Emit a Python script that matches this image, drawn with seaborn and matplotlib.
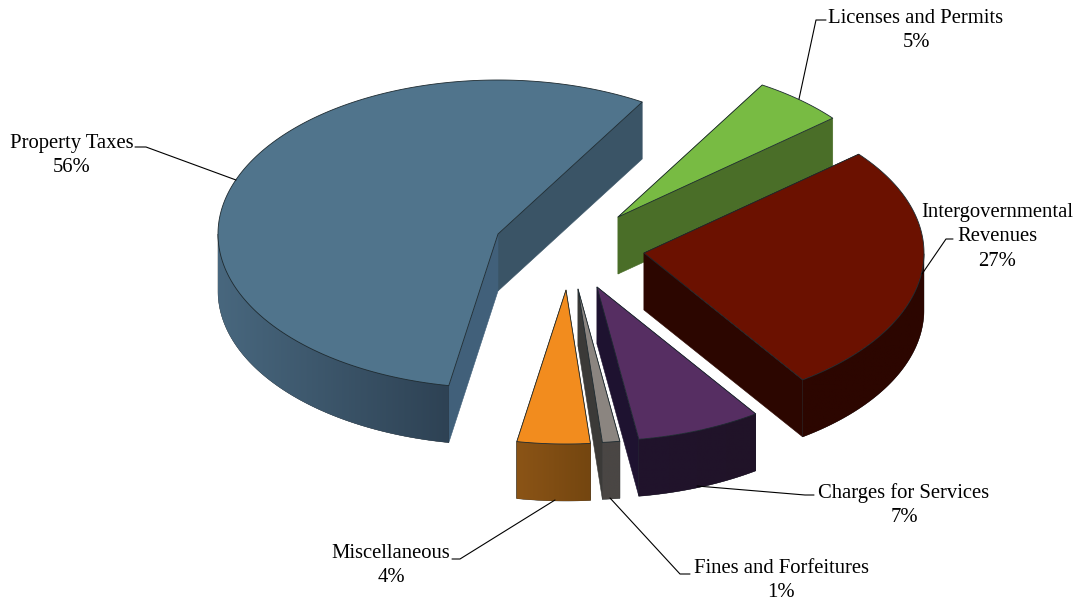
import numpy as np
import pandas as pd
import matplotlib
matplotlib.use("Agg")
import matplotlib.pyplot as plt
from matplotlib.patches import Polygon
from matplotlib.colors import to_rgb
import seaborn as sns

# ---- data (share of revenue, percent; order counter-clockwise from the start angle)
categories = ["Property Taxes", "Miscellaneous", "Fines and Forfeitures",
              "Charges for Services", "Intergovernmental\nRevenues", "Licenses and Permits"]
shares = [55.8, 4.2, 1.0, 7.2, 26.5, 5.3]
labels_pct = ["56%", "4%", "1%", "7%", "27%", "5%"]

# ---- styling
START = 59.0
RX, RY, DEPTH = 280, 154, 57
centers = [(498, 234), (566, 290), (578, 289), (597, 287), (644, 253), (618, 217)]
top_cols = ["#50748c", "#f28c1e", "#8b8580", "#562e62", "#6b1100", "#78bb43"]
rim_cols = [("#48677e", "#2e4254"), ("#8b5416", "#744610"), ("#4a4644", "#4a4644"),
            ("#21132c", "#201328"), ("#2c0600", "#2c0600"), ("#4a6e28", "#4a6e28")]
face_cols = [("#3a5466", "#41607a"), ("#744610", "#744610"), ("#3b3a38", "#3b3a38"),
             ("#1e1230", "#1e1230"), ("#2c0600", "#2c0600"), ("#4a6e28", "#4a6e28")]
draw_order = [0, 5, 1, 2, 3, 4]
label_pos = [(72, 143), (391, 553), (781, 568), (904, 492), (997, 212), (916, 18)]
leaders = [[(135, 147), (146, 147), (236, 180)],
           [(452, 559), (460, 559), (555, 500)],
           [(690, 574), (680, 574), (610, 498)],
           [(814, 495), (805, 495), (697, 486)],
           [(953, 239), (946, 239), (922, 274)],
           [(826, 20), (816, 20), (799, 99)]]

sns.set_theme(style="white")
plt.rcParams["font.family"] = ["Liberation Serif", "DejaVu Serif"]

df = pd.DataFrame({"category": categories, "share": shares, "label": labels_pct})
df["span"] = df["share"] / df["share"].sum() * 360
df["a0"] = START + df["span"].cumsum().shift(fill_value=0)
df["a1"] = df["a0"] + df["span"]

fig = plt.figure(figsize=(10.78, 6.05), dpi=100, facecolor="white")
ax = fig.add_axes([0, 0, 1, 1])
ax.axis("off")


def rim(c, a0, a1, n=100):
    t = np.radians(np.linspace(a0, a1, n))
    return np.column_stack([c[0] + RX * np.cos(t), c[1] - RY * np.sin(t)])


for order, i in enumerate(draw_order):
    row = df.iloc[i]
    c = centers[i]
    z = order * 3
    arc = rim(c, row.a0, row.a1, max(int(row.span * 3), 12))
    down = np.array([0, DEPTH])
    for end, col in zip((arc[0], arc[-1]), face_cols[i]):
        pts = np.array([c, end, end + down, np.array(c) + down])
        ax.add_patch(Polygon(pts, closed=True, fc=col, ec=col, lw=0.4, zorder=z + 1))
    sin_vals = np.sin(np.radians(np.linspace(row.a0, row.a1, arc.shape[0])))
    vis = arc[sin_vals <= 0.001]
    if len(vis) > 1:
        vis = vis[np.argsort(vis[:, 0])]
        outline = np.vstack([vis, (vis + down)[::-1]])
        clip = Polygon(outline, closed=True, fc=rim_cols[i][1], ec="#10181c", lw=0.3,
                       zorder=z + 2)
        ax.add_patch(clip)
        shades = np.array(sns.blend_palette(rim_cols[i], 128))
        grad = np.array([[to_rgb(s) for s in shades]])
        im = ax.imshow(grad, extent=(vis[0, 0], vis[-1, 0], vis[:, 1].max() + DEPTH, vis[:, 1].min()),
                       aspect="auto", zorder=z + 2.5, interpolation="bilinear")
        im.set_clip_path(clip)
    top = np.vstack([c, arc])
    ax.add_patch(Polygon(top, closed=True, fc=top_cols[i], ec="#1d2a30", lw=0.6,
                         zorder=z + 3, joinstyle="round"))
    ax.plot(*zip(*leaders[i]), color="black", lw=0.8, zorder=30)
    x, y = label_pos[i]
    ax.text(x, y - 9, row.category + "\n" + row.label, ha="center", va="top",
            fontsize=14.9, color="black", linespacing=1.38, multialignment="center", zorder=31)

ax.set_xlim(0, 1078)
ax.set_ylim(605, 0)
fig.savefig("out.png", dpi=100, facecolor="white")
